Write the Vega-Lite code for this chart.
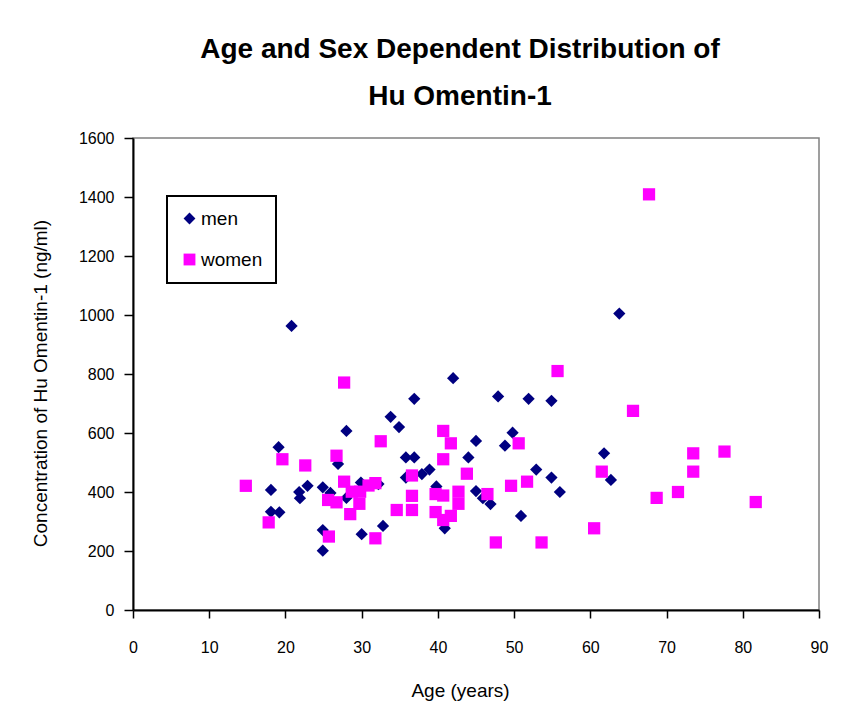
{
  "$schema": "https://vega.github.io/schema/vega-lite/v6.json",
  "autosize": "none",
  "width": 686,
  "height": 472,
  "padding": {"left": 133, "top": 138, "right": 37, "bottom": 95},
  "background": "white",
  "config": {
    "font": "Liberation Sans",
    "view": {"stroke": "#808080", "strokeWidth": 1.5},
    "axis": {"labelColor": "black", "titleColor": "black", "grid": false},
    "legend": {"strokeWidth": 2}
  },
  "title": {
    "text": ["Age and Sex Dependent Distribution of", "Hu Omentin-1"],
    "fontSize": 28,
    "fontWeight": "bold",
    "font": "Liberation Sans",
    "color": "black",
    "lineHeight": 47,
    "anchor": "middle",
    "dx": -16,
    "offset": 19
  },
  "data": {
    "values": [
      {"sex": "men", "age": 18.1, "conc": 407},
      {"sex": "men", "age": 18.1, "conc": 333},
      {"sex": "men", "age": 19.2, "conc": 331},
      {"sex": "men", "age": 19.1, "conc": 552},
      {"sex": "men", "age": 20.8, "conc": 963},
      {"sex": "men", "age": 21.8, "conc": 400},
      {"sex": "men", "age": 22.9, "conc": 421},
      {"sex": "men", "age": 21.9, "conc": 379},
      {"sex": "men", "age": 24.9, "conc": 416},
      {"sex": "men", "age": 25.9, "conc": 397},
      {"sex": "men", "age": 24.9, "conc": 271},
      {"sex": "men", "age": 24.9, "conc": 201},
      {"sex": "men", "age": 26.9, "conc": 495},
      {"sex": "men", "age": 28.0, "conc": 607},
      {"sex": "men", "age": 28.0, "conc": 380},
      {"sex": "men", "age": 29.9, "conc": 432},
      {"sex": "men", "age": 30.0, "conc": 257},
      {"sex": "men", "age": 32.2, "conc": 427},
      {"sex": "men", "age": 32.8, "conc": 285},
      {"sex": "men", "age": 33.8, "conc": 655},
      {"sex": "men", "age": 34.9, "conc": 620},
      {"sex": "men", "age": 35.8, "conc": 517},
      {"sex": "men", "age": 36.9, "conc": 517},
      {"sex": "men", "age": 36.9, "conc": 716},
      {"sex": "men", "age": 35.8, "conc": 449},
      {"sex": "men", "age": 37.9, "conc": 461},
      {"sex": "men", "age": 38.9, "conc": 476},
      {"sex": "men", "age": 39.8, "conc": 419},
      {"sex": "men", "age": 40.9, "conc": 277},
      {"sex": "men", "age": 42.0, "conc": 786},
      {"sex": "men", "age": 44.0, "conc": 517},
      {"sex": "men", "age": 45.0, "conc": 573},
      {"sex": "men", "age": 45.0, "conc": 403},
      {"sex": "men", "age": 45.9, "conc": 379},
      {"sex": "men", "age": 46.9, "conc": 359},
      {"sex": "men", "age": 47.9, "conc": 724},
      {"sex": "men", "age": 48.8, "conc": 557},
      {"sex": "men", "age": 49.8, "conc": 601},
      {"sex": "men", "age": 50.9, "conc": 319},
      {"sex": "men", "age": 51.9, "conc": 716},
      {"sex": "men", "age": 52.9, "conc": 476},
      {"sex": "men", "age": 54.9, "conc": 709},
      {"sex": "men", "age": 54.9, "conc": 449},
      {"sex": "men", "age": 56.0, "conc": 400},
      {"sex": "men", "age": 61.8, "conc": 531},
      {"sex": "men", "age": 62.7, "conc": 441},
      {"sex": "men", "age": 63.8, "conc": 1005},
      {"sex": "women", "age": 14.8, "conc": 421},
      {"sex": "women", "age": 17.8, "conc": 297},
      {"sex": "women", "age": 19.6, "conc": 511},
      {"sex": "women", "age": 22.6, "conc": 490},
      {"sex": "women", "age": 25.6, "conc": 373},
      {"sex": "women", "age": 25.7, "conc": 249},
      {"sex": "women", "age": 26.7, "conc": 523},
      {"sex": "women", "age": 26.7, "conc": 365},
      {"sex": "women", "age": 27.7, "conc": 771},
      {"sex": "women", "age": 27.7, "conc": 435},
      {"sex": "women", "age": 28.7, "conc": 401},
      {"sex": "women", "age": 29.8, "conc": 401},
      {"sex": "women", "age": 28.5, "conc": 325},
      {"sex": "women", "age": 29.7, "conc": 360},
      {"sex": "women", "age": 30.9, "conc": 422},
      {"sex": "women", "age": 31.8, "conc": 430},
      {"sex": "women", "age": 31.8, "conc": 243},
      {"sex": "women", "age": 32.5, "conc": 572},
      {"sex": "women", "age": 34.6, "conc": 339},
      {"sex": "women", "age": 36.6, "conc": 456},
      {"sex": "women", "age": 36.6, "conc": 387},
      {"sex": "women", "age": 36.6, "conc": 339},
      {"sex": "women", "age": 39.7, "conc": 393},
      {"sex": "women", "age": 40.7, "conc": 388},
      {"sex": "women", "age": 39.7, "conc": 332},
      {"sex": "women", "age": 40.7, "conc": 305},
      {"sex": "women", "age": 41.7, "conc": 319},
      {"sex": "women", "age": 40.7, "conc": 607},
      {"sex": "women", "age": 41.7, "conc": 565},
      {"sex": "women", "age": 40.7, "conc": 511},
      {"sex": "women", "age": 42.7, "conc": 401},
      {"sex": "women", "age": 42.7, "conc": 360},
      {"sex": "women", "age": 43.8, "conc": 462},
      {"sex": "women", "age": 46.5, "conc": 393},
      {"sex": "women", "age": 47.6, "conc": 229},
      {"sex": "women", "age": 49.6, "conc": 421},
      {"sex": "women", "age": 50.6, "conc": 565},
      {"sex": "women", "age": 51.7, "conc": 435},
      {"sex": "women", "age": 53.6, "conc": 229},
      {"sex": "women", "age": 55.7, "conc": 810},
      {"sex": "women", "age": 60.5, "conc": 277},
      {"sex": "women", "age": 61.5, "conc": 469},
      {"sex": "women", "age": 65.6, "conc": 675},
      {"sex": "women", "age": 67.7, "conc": 1409},
      {"sex": "women", "age": 68.7, "conc": 380},
      {"sex": "women", "age": 71.5, "conc": 400},
      {"sex": "women", "age": 73.5, "conc": 531},
      {"sex": "women", "age": 73.5, "conc": 469},
      {"sex": "women", "age": 77.6, "conc": 537},
      {"sex": "women", "age": 81.7, "conc": 366}
    ]
  },
  "mark": {"type": "point", "filled": true, "opacity": 1, "size": 150},
  "encoding": {
    "x": {
      "field": "age",
      "type": "quantitative",
      "scale": {"domain": [0, 90], "nice": false, "zero": true},
      "axis": {
        "title": "Age (years)",
        "values": [0, 10, 20, 30, 40, 50, 60, 70, 80, 90],
        "format": "d",
        "domainColor": "black",
        "domainWidth": 2,
        "tickColor": "black",
        "tickWidth": 1.5,
        "tickSize": 8,
        "labelFontSize": 16,
        "labelPadding": 21,
        "labelFlush": false,
        "titleFontSize": 19,
        "titleFontWeight": "normal",
        "titleX": 327,
        "titleY": 80,
        "titleBaseline": "middle"
      }
    },
    "y": {
      "field": "conc",
      "type": "quantitative",
      "scale": {"domain": [0, 1600], "nice": false},
      "axis": {
        "title": "Concentration of Hu Omentin-1 (ng/ml)",
        "values": [0, 200, 400, 600, 800, 1000, 1200, 1400, 1600],
        "format": "d",
        "domainColor": "black",
        "domainWidth": 2,
        "tickColor": "black",
        "tickWidth": 1.5,
        "tickSize": 9,
        "labelFontSize": 16,
        "labelPadding": 10,
        "labelFlush": false,
        "titleFontSize": 19,
        "titleFontWeight": "normal",
        "titleX": -93,
        "titleY": 245,
        "titleBaseline": "middle"
      }
    },
    "color": {
      "field": "sex",
      "type": "nominal",
      "scale": {"domain": ["men", "women"], "range": ["#000080", "#FF00FF"]},
      "legend": {
        "title": null,
        "orient": "none",
        "legendX": 34,
        "legendY": 58,
        "strokeColor": "black",
        "fillColor": "white",
        "padding": 13,
        "rowPadding": 21,
        "labelFontSize": 19,
        "labelColor": "black",
        "labelOffset": 2,
        "symbolSize": 140,
        "symbolStrokeWidth": 0
      }
    },
    "shape": {
      "field": "sex",
      "type": "nominal",
      "scale": {"domain": ["men", "women"], "range": ["diamond", "square"]},
      "legend": null
    }
  }
}
